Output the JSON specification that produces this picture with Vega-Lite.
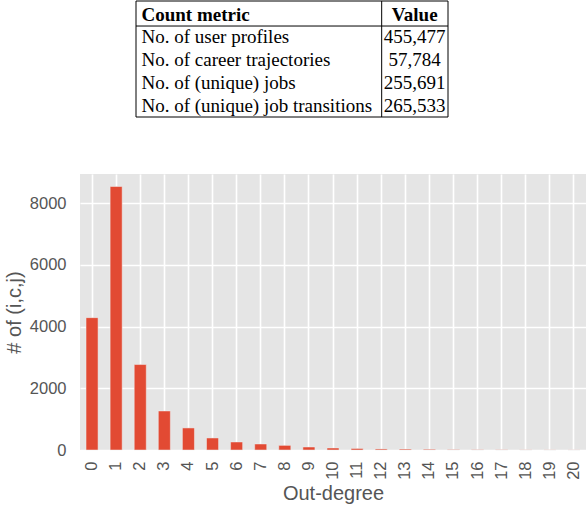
{
  "$schema": "https://vega.github.io/schema/vega-lite/v6.json",
  "padding": {"left": 4, "top": 0, "right": 3, "bottom": 0},
  "background": "white",
  "center": true,
  "spacing": 56,
  "config": {"font": "Liberation Sans", "view": {"stroke": null}},
  "vconcat": [
    {
      "width": 506,
      "height": 116,
      "view": {"stroke": null, "fill": null},
      "data": {
        "values": [
          {"row": 0, "metric": "Count metric", "value": "Value"},
          {"row": 1, "metric": "No. of user profiles", "value": "455,477"},
          {"row": 2, "metric": "No. of career trajectories", "value": "57,784"},
          {"row": 3, "metric": "No. of (unique) jobs", "value": "255,691"},
          {"row": 4, "metric": "No. of (unique) job transitions", "value": "265,533"}
        ]
      },
      "layer": [
        {
          "transform": [{"filter": "datum.row == 0"}],
          "mark": {"type": "rect", "fill": null, "stroke": "black", "strokeWidth": 1},
          "encoding": {
            "x": {"datum": 0.1107, "type": "quantitative", "scale": {"domain": [0, 1], "nice": false, "zero": false}, "axis": null},
            "x2": {"datum": 0.7273},
            "y": {"datum": -0.6, "type": "quantitative", "scale": {"domain": [-0.6, 4.5], "nice": false, "zero": false, "reverse": true}, "axis": null},
            "y2": {"datum": 4.5}
          }
        },
        {
          "transform": [{"filter": "datum.row > 0"}],
          "mark": {"type": "text", "align": "left", "baseline": "middle", "font": "Liberation Serif", "fontSize": 19, "color": "black"},
          "encoding": {
            "x": {"datum": 0.1215, "type": "quantitative"},
            "y": {"field": "row", "type": "quantitative"},
            "text": {"field": "metric"}
          }
        },
        {
          "transform": [{"filter": "datum.row > 0"}],
          "mark": {"type": "text", "align": "center", "baseline": "middle", "font": "Liberation Serif", "fontSize": 19, "color": "black"},
          "encoding": {
            "x": {"datum": 0.6615, "type": "quantitative"},
            "y": {"field": "row", "type": "quantitative"},
            "text": {"field": "value"}
          }
        },
        {
          "transform": [{"filter": "datum.row == 0"}],
          "mark": {"type": "text", "align": "left", "baseline": "middle", "font": "Liberation Serif", "fontSize": 19, "fontWeight": "bold", "color": "black"},
          "encoding": {
            "x": {"datum": 0.1215, "type": "quantitative"},
            "y": {"field": "row", "type": "quantitative"},
            "text": {"field": "metric"}
          }
        },
        {
          "transform": [{"filter": "datum.row == 0"}],
          "mark": {"type": "text", "align": "center", "baseline": "middle", "font": "Liberation Serif", "fontSize": 19, "fontWeight": "bold", "color": "black"},
          "encoding": {
            "x": {"datum": 0.6615, "type": "quantitative"},
            "y": {"field": "row", "type": "quantitative"},
            "text": {"field": "value"}
          }
        },
        {
          "transform": [{"filter": "datum.row == 0"}],
          "mark": {"type": "rule", "color": "black", "strokeWidth": 1},
          "encoding": {
            "x": {"datum": 0.5962, "type": "quantitative"}
          }
        },
        {
          "transform": [{"filter": "datum.row == 0"}],
          "mark": {"type": "rule", "color": "black", "strokeWidth": 1},
          "encoding": {
            "x": {"datum": 0.1107, "type": "quantitative"},
            "x2": {"datum": 0.7273},
            "y": {"datum": 0.5, "type": "quantitative"}
          }
        }
      ]
    },
    {
      "width": 506,
      "height": 276,
      "view": {"fill": "#E5E5E5", "stroke": null},
      "data": {
        "values": [
          {"degree": 0, "count": 4290},
          {"degree": 1, "count": 8540},
          {"degree": 2, "count": 2770},
          {"degree": 3, "count": 1265},
          {"degree": 4, "count": 715},
          {"degree": 5, "count": 390},
          {"degree": 6, "count": 260},
          {"degree": 7, "count": 195},
          {"degree": 8, "count": 150},
          {"degree": 9, "count": 97},
          {"degree": 10, "count": 65},
          {"degree": 11, "count": 50},
          {"degree": 12, "count": 34},
          {"degree": 13, "count": 30},
          {"degree": 14, "count": 24},
          {"degree": 15, "count": 14},
          {"degree": 16, "count": 9},
          {"degree": 17, "count": 8},
          {"degree": 18, "count": 5},
          {"degree": 19, "count": 4},
          {"degree": 20, "count": 3}
        ]
      },
      "mark": {"type": "bar", "color": "#E24A33", "stroke": "#EEEEEE", "strokeWidth": 0.5},
      "encoding": {
        "x": {
          "field": "degree",
          "type": "ordinal",
          "scale": {"paddingInner": 0.5, "paddingOuter": 0.25},
          "axis": {
            "title": "Out-degree",
            "labelAngle": 270,
            "labelFontSize": 16.5,
            "labelColor": "#555555",
            "labelPadding": 11,
            "ticks": false,
            "tickSize": 0,
            "domain": false,
            "grid": true,
            "gridColor": "white",
            "gridWidth": 1.6,
            "bandPosition": 0.5,
            "titleFontSize": 20,
            "titleFontWeight": "normal",
            "titleColor": "#555555",
            "titlePadding": 4
          }
        },
        "y": {
          "field": "count",
          "type": "quantitative",
          "scale": {"domain": [0, 8946], "nice": false},
          "axis": {
            "title": "# of (i,c,j)",
            "values": [0, 2000, 4000, 6000, 8000],
            "format": "d",
            "labelFontSize": 16.5,
            "labelColor": "#555555",
            "labelPadding": 14,
            "ticks": false,
            "tickSize": 0,
            "domain": false,
            "grid": true,
            "gridColor": "white",
            "gridWidth": 1.6,
            "titleFontSize": 20,
            "titleFontWeight": "normal",
            "titleColor": "#555555",
            "titlePadding": 5
          }
        }
      }
    }
  ]
}
